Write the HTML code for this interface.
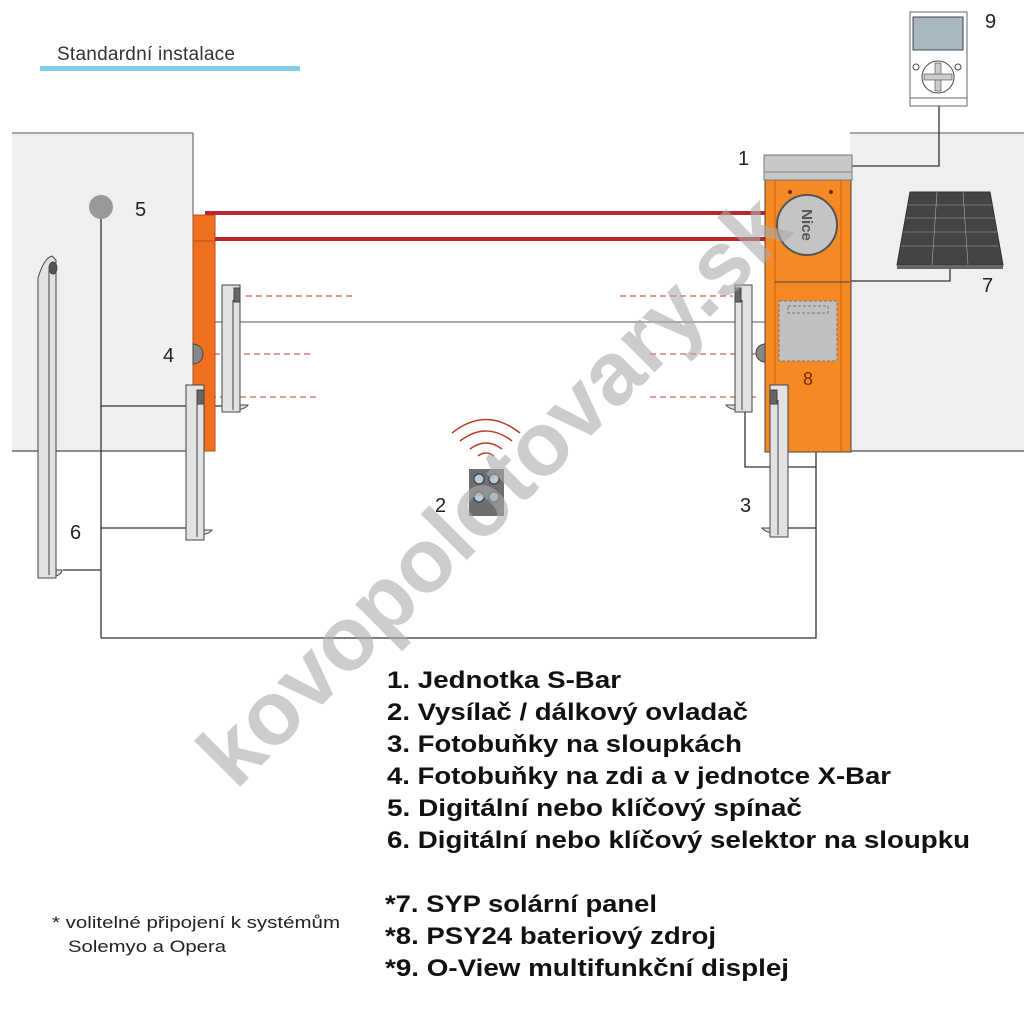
<!DOCTYPE html>
<html><head><meta charset="utf-8"><style>
html,body{margin:0;padding:0;background:#fff;}
svg{display:block}
.t{font-family:"Liberation Sans",sans-serif;}
</style></head><body>
<svg width="1024" height="1024" viewBox="0 0 1024 1024" xmlns="http://www.w3.org/2000/svg">
<rect width="1024" height="1024" fill="#fff"/>
<text x="57" y="60" class="t" font-size="19" fill="#333" textLength="178">Standardní instalace</text>
<rect x="40" y="66" width="260" height="5" fill="#7fcde8"/>

<!-- walls -->
<rect x="12" y="133" width="181" height="318" fill="#efefef"/>
<line x1="12" y1="133" x2="193" y2="133" stroke="#555" stroke-width="1"/>
<line x1="193" y1="133" x2="193" y2="215" stroke="#555"/>
<line x1="12" y1="451" x2="193" y2="451" stroke="#222"/>
<rect x="850" y="133" width="174" height="318" fill="#efefef"/>
<line x1="850" y1="133" x2="1024" y2="133" stroke="#555"/>
<line x1="850" y1="451" x2="1024" y2="451" stroke="#222"/>

<!-- wiring -->
<g stroke="#333" stroke-width="1.3" fill="none">
<line x1="101" y1="207" x2="101" y2="638"/>
<polyline points="101,638 816,638 816,452"/>
<line x1="101" y1="406" x2="222" y2="406"/>
<line x1="101" y1="528" x2="186" y2="528"/>
<line x1="63" y1="570" x2="101" y2="570"/>
<polyline points="745,410 745,467 816,467"/>
<line x1="788" y1="528" x2="816" y2="528"/>
<polyline points="939,106 939,166 850,166"/>
<polyline points="950,268 950,281 775,281 775,310"/>
</g>
<line x1="215" y1="322" x2="765" y2="322" stroke="#777" stroke-width="1.2"/>

<!-- dashed beams -->
<g stroke="#c0392b" stroke-width="1" stroke-dasharray="6,4">
<line x1="246" y1="296" x2="355" y2="296"/>
<line x1="204" y1="354" x2="312" y2="354"/>
<line x1="210" y1="397" x2="318" y2="397"/>
<line x1="620" y1="296" x2="733" y2="296"/>
<line x1="650" y1="354" x2="757" y2="354"/>
<line x1="650" y1="397" x2="760" y2="397"/>
</g>

<!-- left orange post -->
<rect x="193" y="215" width="22" height="236" fill="#f07020" stroke="#b4501a" stroke-width="1"/>
<line x1="193" y1="241" x2="215" y2="241" stroke="#b4501a"/>
<path d="M193 344 a10 10 0 0 1 0 20 z" fill="#888" stroke="#444"/>

<!-- booms -->
<rect x="205" y="211" width="575" height="4" fill="#b8262e"/>
<rect x="215" y="237" width="565" height="4" fill="#b8262e"/>

<!-- right unit -->
<rect x="765" y="180" width="86" height="272" fill="#f58a25" stroke="#444"/>
<line x1="775" y1="180" x2="775" y2="452" stroke="#c46010"/>
<line x1="841" y1="180" x2="841" y2="452" stroke="#c46010"/>
<rect x="764" y="155" width="88" height="25" fill="#c8c8c8" stroke="#777"/>
<line x1="764" y1="172" x2="852" y2="172" stroke="#888"/>
<circle cx="790" cy="192" r="2" fill="#6a2a10"/><circle cx="831" cy="192" r="2" fill="#6a2a10"/>
<circle cx="807" cy="225" r="30" fill="#c4c4c4" stroke="#555" stroke-width="2"/>
<text x="807" y="225" class="t" font-size="15" font-weight="bold" fill="#555" transform="rotate(90 807 225)" text-anchor="middle" dy="5">Nice</text>
<line x1="775" y1="282" x2="850" y2="282" stroke="#444"/>
<rect x="779" y="301" width="58" height="60" fill="#c0c0c0" stroke="#777" stroke-dasharray="3,2"/>
<rect x="788" y="306" width="40" height="7" fill="none" stroke="#777" stroke-dasharray="3,2"/>
<text x="808" y="385" class="t" font-size="18" fill="#7a2a00" text-anchor="middle">8</text>
<path d="M765 344 a9 9 0 0 0 0 18 z" fill="#888" stroke="#444"/>

<!-- posts -->
<g stroke="#444" stroke-width="1">
<path d="M38 570 a12 7 0 0 0 24 0 z" fill="#ddd"/>
<path d="M38 578 L38 278 Q44 258 52 256 L56 260 L56 578 Z" fill="#e2e2e2"/>
<line x1="49" y1="270" x2="49" y2="575"/>
<ellipse cx="53" cy="268" rx="4" ry="6" fill="#555"/>
<path d="M222 405 a14 8 0 0 0 26 0 z" fill="#ddd"/>
<rect x="222" y="285" width="18" height="127" fill="#e2e2e2"/>
<rect x="234" y="288" width="6" height="14" fill="#666"/>
<line x1="233" y1="300" x2="233" y2="410"/>
<path d="M186 530 a14 8 0 0 0 26 0 z" fill="#ddd"/>
<rect x="186" y="385" width="18" height="155" fill="#e2e2e2"/>
<rect x="197" y="390" width="7" height="14" fill="#666"/>
<line x1="197" y1="400" x2="197" y2="537"/>
<path d="M752 405 a14 8 0 0 1 -26 0 z" fill="#ddd"/>
<rect x="735" y="285" width="17" height="127" fill="#e2e2e2"/>
<rect x="735" y="288" width="6" height="14" fill="#666"/>
<line x1="742" y1="300" x2="742" y2="410"/>
<path d="M788 528 a14 8 0 0 1 -26 0 z" fill="#ddd"/>
<rect x="770" y="385" width="18" height="152" fill="#e2e2e2"/>
<rect x="770" y="390" width="7" height="14" fill="#666"/>
<line x1="778" y1="400" x2="778" y2="535"/>
</g>

<circle cx="101" cy="207" r="12" fill="#999"/>

<!-- solar panel -->
<path d="M910 192 L990 192 L1003 265 L897 265 Z" fill="#444" stroke="#333"/>
<g stroke="#aaa" stroke-width="0.6">
<line x1="908" y1="205" x2="992" y2="205"/><line x1="906" y1="218" x2="995" y2="218"/>
<line x1="903" y1="232" x2="997" y2="232"/><line x1="901" y1="246" x2="999" y2="246"/>
<line x1="937" y1="192" x2="932" y2="265"/><line x1="963" y1="192" x2="968" y2="265"/>
</g>
<rect x="897" y="265" width="106" height="4" fill="#666"/>

<!-- display -->
<rect x="910" y="12" width="57" height="94" fill="#fff" stroke="#666"/>
<line x1="910" y1="98" x2="967" y2="98" stroke="#666"/>
<rect x="913" y="17" width="50" height="33" fill="#a9b8c0" stroke="#444"/>
<circle cx="938" cy="77" r="16" fill="#fff" stroke="#444"/>
<rect x="935" y="63" width="6" height="28" fill="#ccc" stroke="#444" stroke-width="0.6"/>
<rect x="924" y="74" width="28" height="6" fill="#ccc" stroke="#444" stroke-width="0.6"/>
<circle cx="916" cy="67" r="3" fill="none" stroke="#444"/><circle cx="958" cy="67" r="3" fill="none" stroke="#444"/>

<!-- remote -->
<g fill="none" stroke="#c0392b" stroke-width="1.5">
<path d="M452 433 Q486 406 520 433"/>
<path d="M460 441 Q486 421 512 441"/>
<path d="M470 449 Q486 437 502 449"/>
<path d="M478 456 Q486 450 494 456"/>
</g>
<rect x="469" y="469" width="35" height="47" fill="#6e6e6e"/>
<g fill="#b9ccd8" stroke="#333"><circle cx="479" cy="479" r="5"/><circle cx="494" cy="479" r="5"/><circle cx="479" cy="497" r="5"/><circle cx="494" cy="497" r="5"/></g>

<g class="t" font-size="20" fill="#222">
<text x="738" y="165">1</text><text x="435" y="512">2</text><text x="740" y="512">3</text>
<text x="163" y="362">4</text><text x="135" y="216">5</text><text x="70" y="539">6</text>
<text x="982" y="292">7</text><text x="985" y="28">9</text>
</g>

<!-- watermark -->
<text x="515" y="512" class="t" font-size="90" font-weight="bold" fill="#aaa" fill-opacity="0.6" text-anchor="middle" textLength="790" lengthAdjust="spacingAndGlyphs" transform="rotate(-45 515 512)">kovopolotovary.sk</text>

<!-- legend -->
<g class="t" font-size="24" font-weight="bold" fill="#111" lengthAdjust="spacingAndGlyphs">
<text x="387" y="688" textLength="234" lengthAdjust="spacingAndGlyphs">1.  Jednotka S-Bar</text>
<text x="387" y="720" textLength="361" lengthAdjust="spacingAndGlyphs">2.  Vysílač / dálkový ovladač</text>
<text x="387" y="752" textLength="355" lengthAdjust="spacingAndGlyphs">3.  Fotobuňky na sloupkách</text>
<text x="387" y="784" textLength="504" lengthAdjust="spacingAndGlyphs">4.  Fotobuňky na zdi a v jednotce X-Bar</text>
<text x="387" y="816" textLength="415" lengthAdjust="spacingAndGlyphs">5.  Digitální nebo klíčový spínač</text>
<text x="387" y="848" textLength="583" lengthAdjust="spacingAndGlyphs">6.  Digitální nebo klíčový selektor na sloupku</text>
<text x="385" y="912" textLength="272" lengthAdjust="spacingAndGlyphs">*7. SYP solární panel</text>
<text x="385" y="944" textLength="331" lengthAdjust="spacingAndGlyphs">*8. PSY24 bateriový zdroj</text>
<text x="385" y="976" textLength="404" lengthAdjust="spacingAndGlyphs">*9. O-View multifunkční displej</text>
</g>
<text x="52" y="928" class="t" font-size="17" fill="#222" textLength="288" lengthAdjust="spacingAndGlyphs">* volitelné připojení k systémům</text>
<text x="68" y="952" class="t" font-size="17" fill="#222" textLength="158" lengthAdjust="spacingAndGlyphs">Solemyo a Opera</text>
</svg>
</body></html>
